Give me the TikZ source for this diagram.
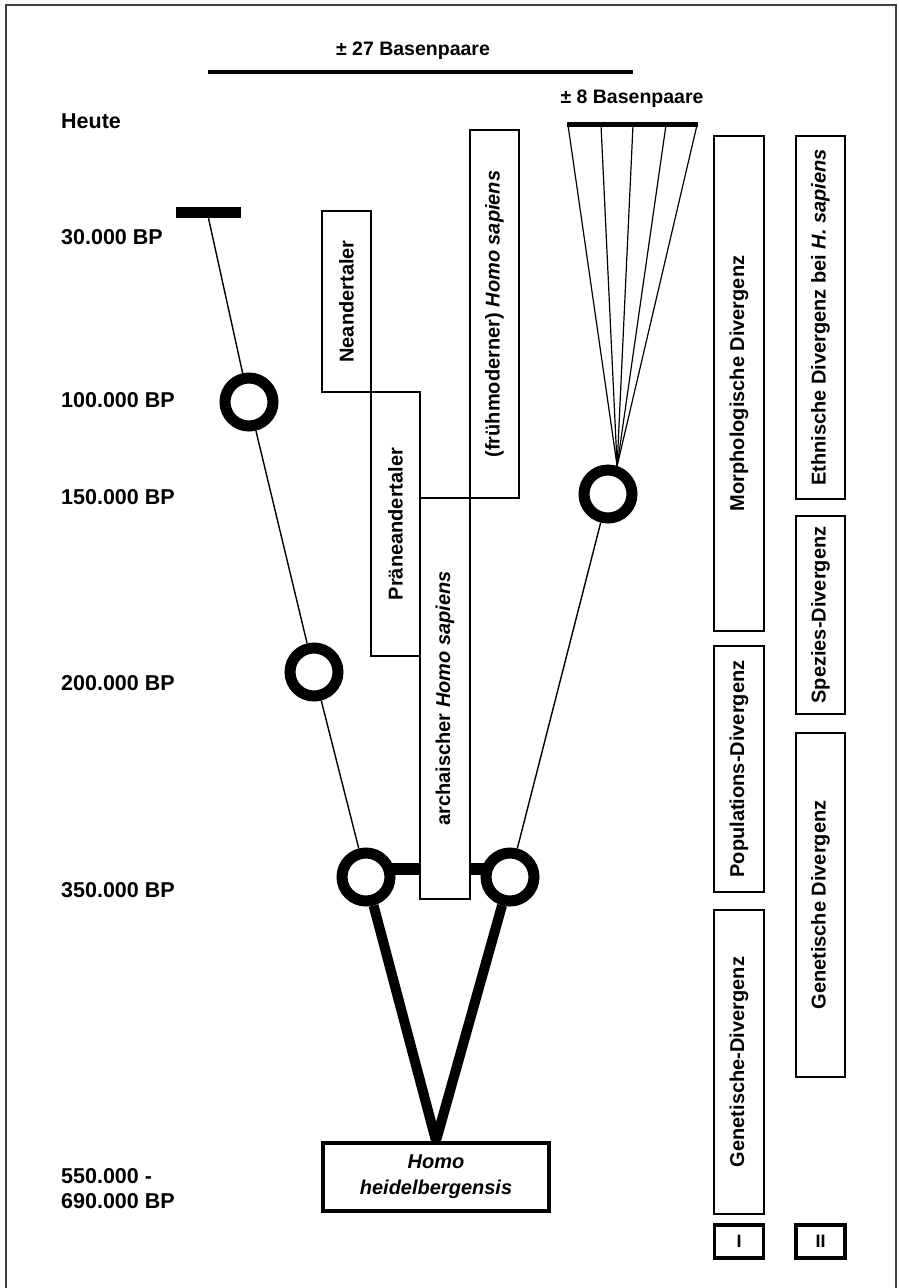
\documentclass[tikz,border=0pt]{standalone}
\usepackage{fontspec}
\setmainfont{Liberation Sans}
\begin{document}
\begin{tikzpicture}[x=1pt,y=-1pt,
  lab/.style={anchor=west, inner sep=0pt, font=\fontsize{21.5}{24}\selectfont\bfseries},
  toplab/.style={inner sep=0pt, font=\fontsize{19.5}{24}\selectfont\bfseries},
  vbox/.style={draw, line width=1.3pt, rotate=90, inner sep=0pt, fill=none,
    font=\fontsize{20}{24}\selectfont\bfseries},
  ring/.style={circle, draw, fill=white, line width=11pt, minimum size=48pt, inner sep=0pt},
  thinl/.style={line width=1.4pt},
  fanl/.style={line width=1.2pt},
  heavy/.style={line width=12pt},
  vline/.style={line width=10pt},
  numbox/.style={draw, line width=3.5pt, minimum width=49pt, minimum height=33pt, inner sep=0pt,
    font=\fontsize{18}{20}\selectfont\bfseries}
]
\useasboundingbox (0,0) rectangle (898,1288);
\fill[white] (0,0) rectangle (898,1288);
% frame
\draw[line width=1.6pt, black!75] (6,1288) -- (6,5) -- (896,5) -- (896,1288);

% top labels
\node[toplab] (bp27) at (413,51) {± 27 Basenpaare};
\coordinate (l27a) at (208,72);
\coordinate (l27b) at (633,72);
\draw[line width=3.5pt] (l27a) -- (l27b);
\node[toplab] (bp8) at (632,99) {± 8 Basenpaare};

% time labels
\node[lab] (heute) at (61,121) {Heute};
\node[lab] (t30) at (61,237) {30.000 BP};
\node[lab] (t100) at (61,400) {100.000 BP};
\node[lab] (t150) at (61,497) {150.000 BP};
\node[lab] (t200) at (61,683) {200.000 BP};
\node[lab] (t350) at (61,890) {350.000 BP};
\node[lab] (t550) at (61,1176) {550.000 -};
\node[lab] (t690) at (61,1201) {690.000 BP};

% middle boxes
\node[vbox, minimum width=181pt, minimum height=49pt] (nean) at (346.5,301.5) {Neandertaler};
\node[vbox, minimum width=264pt, minimum height=49pt] (prae) at (395.5,524) {Präneandertaler};
\node[vbox, minimum width=401pt, minimum height=50pt] (arch) at (445,698.5) {archaischer \textit{Homo sapiens}};
\node[vbox, minimum width=368pt, minimum height=49pt] (frueh) at (494.5,314) {(frühmoderner) \textit{Homo sapiens}};

% right column boxes
\node[vbox, minimum width=495pt, minimum height=50pt] (morph) at (739,383.5) {Morphologische Divergenz};
\node[vbox, minimum width=246pt, minimum height=50pt] (pop) at (739,769) {Populations-Divergenz};
\node[vbox, minimum width=304pt, minimum height=50pt] (gen1) at (739,1062) {Genetische-Divergenz};
\node[vbox, minimum width=363pt, minimum height=49pt] (eth) at (820.5,317.5) {Ethnische Divergenz bei \textit{H. sapiens}};
\node[vbox, minimum width=198pt, minimum height=49pt] (spez) at (820.5,615) {Spezies-Divergenz};
\node[vbox, minimum width=344pt, minimum height=49pt] (gen2) at (820.5,905) {Genetische Divergenz};
\node[numbox] (nI) at (739,1241.5) {I};
\node[numbox] (nII) at (820.5,1241.5) {II};

% heidelbergensis
\node[draw, line width=4.5pt, minimum width=226pt, minimum height=68pt, inner sep=0pt, align=center,
  font=\fontsize{20}{26}\selectfont\bfseries\itshape] (hh) at (436,1177) {Homo\\heidelbergensis};

% left branch
\node[fill, minimum width=65pt, minimum height=11pt, inner sep=0pt] (bar) at (208.5,212.5) {};
\node[ring] (c100) at (249,402) {};
\node[ring] (c200) at (314,672) {};
\node[ring] (c350L) at (366,877) {};
\node[ring] (c350R) at (510,877) {};
\node[ring] (c150) at (608,494) {};
\draw[thinl] (bar.south) -- (c100) -- (c200) -- (c350L);
\draw[thinl] (c350R) -- (c150);

% fan
\node[fill, minimum width=131pt, minimum height=5pt, inner sep=0pt] (fanbar) at (632.5,124) {};
\coordinate (f1) at (568,125);
\coordinate (f2) at (601,125);
\coordinate (f3) at (633,125);
\coordinate (f4) at (666,125);
\coordinate (f5) at (697,125);
\coordinate (apex) at (c150.72);
\foreach \f in {f1,f2,f3,f4,f5} \draw[fanl] (apex) -- (\f);

% heavy links
\coordinate (al) at (421,869);
\coordinate (ar) at (470,869);
\draw[heavy] ([xshift=-8pt,yshift=8pt]c350L.east) -- (al);
\draw[heavy] (ar) -- ([xshift=8pt,yshift=8pt]c350R.west);

% V
\draw[vline] (c350L) -- (hh.north);
\draw[vline] (c350R) -- (hh.north);
\end{tikzpicture}
\end{document}
